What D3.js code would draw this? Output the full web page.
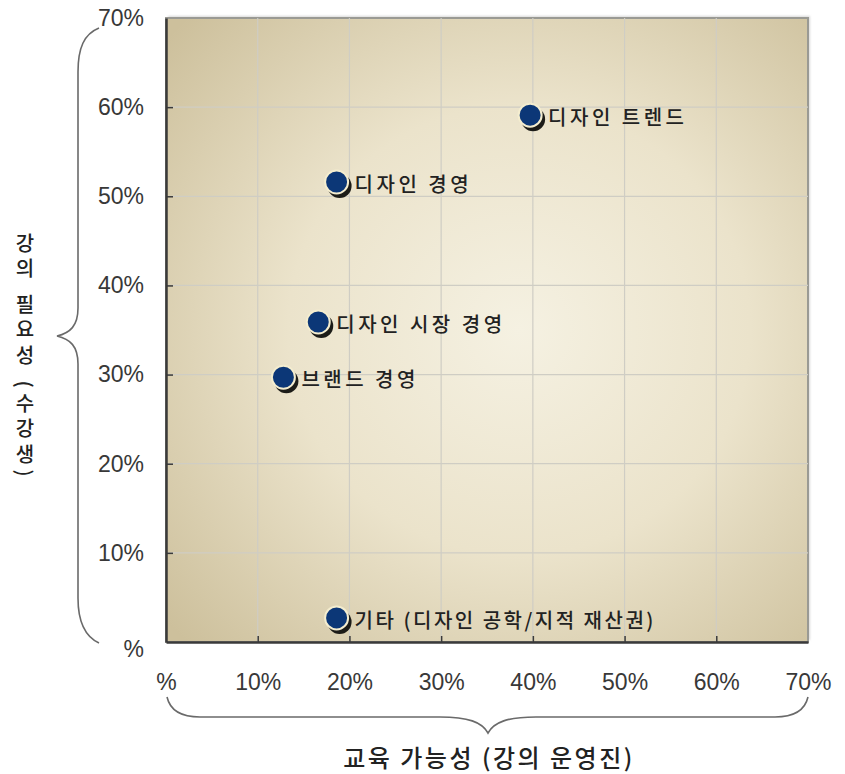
<!DOCTYPE html>
<html>
<head>
<meta charset="utf-8">
<script src="https://cdn.jsdelivr.net/npm/d3@7"></script>
<style>
  body { margin: 0; background: #fff; }
  svg { display: block; }
</style>
</head>
<body>
<div id="chart"></div>
<script>
// data: x = 교육 가능성 (%), y = 강의 필요성 (%)
const names = ["디자인 트렌드", "디자인 경영", "디자인 시장 경영", "브랜드 경영", "기타 (디자인 공학/지적 재산권)"];
const xValues = [39.7, 18.6, 16.6, 12.8, 18.6];
const yValues = [59.1, 51.6, 35.9, 29.7, 2.7];
const tickValues = [0, 10, 20, 30, 40, 50, 60, 70];
const tickLabels = ["%", "10%", "20%", "30%", "40%", "50%", "60%", "70%"];

const points = names.map((n, i) => ({ name: n, x: xValues[i], y: yValues[i] }));

const W = 845, H = 774;
const svg = d3.select("#chart").append("svg")
  .attr("width", W)
  .attr("height", H);

const x = d3.scaleLinear().domain([0, 70]).range([166, 808]);
const y = d3.scaleLinear().domain([0, 70]).range([642, 18]);

const defs = svg.append("defs");
const grad = defs.append("radialGradient")
  .attr("id", "bg")
  .attr("cx", "55%").attr("cy", "50%").attr("r", "72%");
grad.append("stop").attr("offset", "0%").attr("stop-color", "#f5f1e2");
grad.append("stop").attr("offset", "50%").attr("stop-color", "#ebe3cb");
grad.append("stop").attr("offset", "100%").attr("stop-color", "#cdc09c");

const shadow = defs.append("filter").attr("id", "soft").attr("x", "-10%").attr("y", "-10%").attr("width", "130%").attr("height", "130%");
shadow.append("feGaussianBlur").attr("stdDeviation", 1.2);

// plot background + frame shadow
svg.append("rect")
  .attr("x", x(0) + 2).attr("y", y(70) - 2)
  .attr("width", x(70) - x(0)).attr("height", y(0) - y(70))
  .attr("fill", "#d8d8d8")
  .attr("filter", "url(#soft)");

svg.append("rect")
  .attr("x", x(0)).attr("y", y(70))
  .attr("width", x(70) - x(0)).attr("height", y(0) - y(70))
  .attr("fill", "url(#bg)")
  .attr("stroke", "#9a9a94")
  .attr("stroke-width", 2);

// grid
const inner = tickValues.filter(d => d > 0 && d < 70);
svg.append("g").selectAll("line")
  .data(inner)
  .join("line")
  .attr("x1", d => x(d)).attr("x2", d => x(d))
  .attr("y1", y(70)).attr("y2", y(0))
  .attr("stroke", "#cfcdc4").attr("stroke-width", 1.2);

svg.append("g").selectAll("line")
  .data(inner)
  .join("line")
  .attr("y1", d => y(d)).attr("y2", d => y(d))
  .attr("x1", x(0)).attr("x2", x(70))
  .attr("stroke", "#cfcdc4").attr("stroke-width", 1.2);

// axes
const fmt = d => tickLabels[tickValues.indexOf(d)];

const xAxis = svg.append("g")
  .attr("transform", "translate(0," + y(0) + ")")
  .call(d3.axisBottom(x).tickValues(tickValues).tickFormat(fmt).tickSizeInner(-6).tickSizeOuter(0).tickPadding(32));

const yAxis = svg.append("g")
  .attr("transform", "translate(" + x(0) + ",0)")
  .call(d3.axisLeft(y).tickValues(tickValues).tickFormat(fmt).tickSizeInner(-7).tickSizeOuter(0).tickPadding(22));

[xAxis, yAxis].forEach(a => {
  a.select(".domain").attr("stroke", "#3a3a3a").attr("stroke-width", 2.5);
  a.selectAll(".tick line").attr("stroke", "#3a3a3a").attr("stroke-width", 1.5);
  a.selectAll(".tick text")
    .attr("fill", "#383838")
    .style("font-family", "'Liberation Sans', Arial, sans-serif")
    .style("font-size", "23px");
});
xAxis.selectAll(".tick").filter(d => d === 70 || d === 0).select("line").remove();
yAxis.selectAll(".tick").filter(d => d === 70 || d === 0).select("line").remove();
yAxis.selectAll(".tick").filter(d => d === 0).select("text").attr("dy", "0.62em");

// braces
const brace = svg.append("g")
  .attr("fill", "none")
  .attr("stroke", "#6a6a6a")
  .attr("stroke-width", 1.6);

brace.append("path")
  .attr("d", "M99,28 C84,34 78,48 78,72 L78,308 C78,326 70,333 57,336 C70,339 78,346 78,364 L78,598 C78,622 86,637 99,643");

brace.append("path")
  .attr("d", "M167,697 C170,710 180,717 200,717 L440,717 C468,717 482,722 488,733 C494,722 508,717 536,717 L775,717 C795,717 805,710 808,697");

// axis titles
svg.append("text")
  .attr("x", 489).attr("y", 767)
  .attr("text-anchor", "middle")
  .attr("fill", "#222")
  .style("font-family", "'Noto Sans CJK KR', sans-serif")
  .style("font-size", "24px")
  .style("font-weight", 500)
  .style("letter-spacing", "2.5px")
  .text("교육 가능성 (강의 운영진)");

svg.append("text")
  .attr("x", 25).attr("y", 233)
  .attr("fill", "#222")
  .style("writing-mode", "vertical-rl")
  .style("font-family", "'Noto Sans CJK KR', sans-serif")
  .style("font-size", "20px")
  .style("font-weight", 500)
  .style("letter-spacing", "5.5px")
  .text("강의 필요성 (수강생)");

// points
const pts = svg.append("g").selectAll("g")
  .data(points)
  .join("g")
  .attr("transform", d => "translate(" + x(d.x) + "," + y(d.y) + ")");

pts.append("circle")
  .attr("cx", 3).attr("cy", 4).attr("r", 12)
  .attr("fill", "#1c1c18");

pts.append("circle")
  .attr("r", 11.5)
  .attr("fill", "#0c3777")
  .attr("stroke", "#f4edcf")
  .attr("stroke-width", 2);

pts.append("text")
  .attr("x", 18).attr("y", 3)
  .attr("dy", "0.36em")
  .attr("fill", "#222")
  .style("font-family", "'Noto Sans CJK KR', sans-serif")
  .style("font-size", "20px")
  .style("font-weight", 500)
  .style("letter-spacing", d => d.name.length > 12 ? "2.5px" : "3.5px")
  .text(d => d.name);
</script>
</body>
</html>
